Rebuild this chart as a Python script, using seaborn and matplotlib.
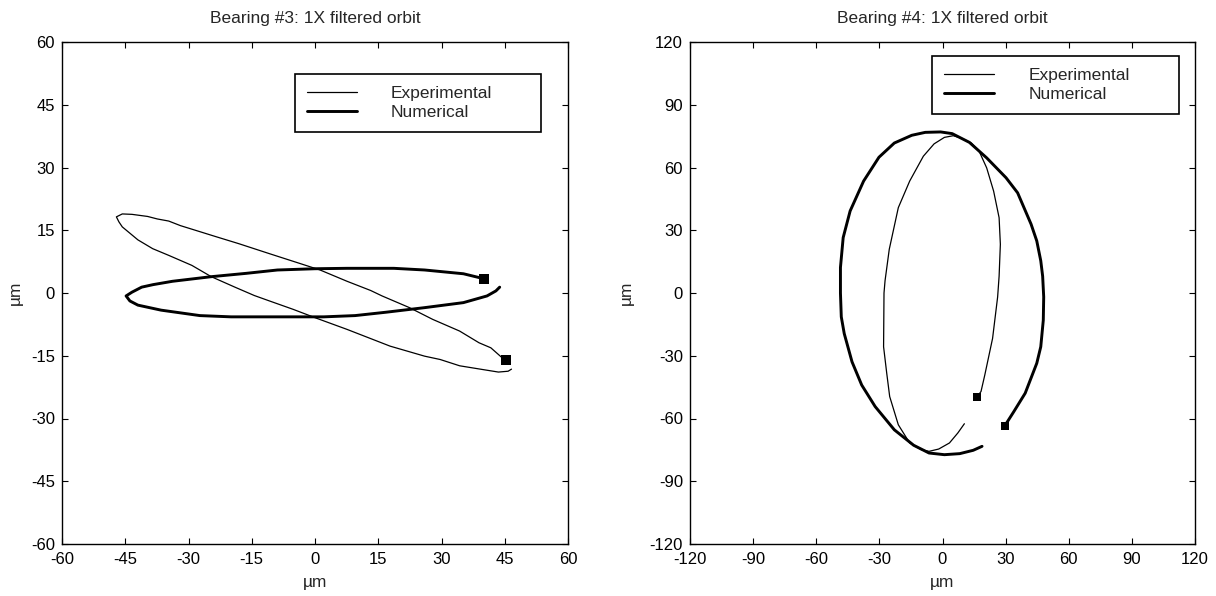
import numpy as np
import pandas as pd
import matplotlib
matplotlib.use("Agg")
import matplotlib.pyplot as plt
import seaborn as sns

# DATA (micrometres)

# Bearing #3
b3_exp_x = [45.4, 44.4, 41.7, 38.9, 34.3, 27.9, 22.4, 15.9, 13.2, 7.6, 1.2, -3.4, -10.8, -18.1,
            -23.6, -28.7, -31.9, -34.7, -37.4, -39.7, -43.4, -45.7, -47.1, -46.5, -45.7, -42.0,
            -38.5, -34.7, -29.2, -24.6, -19.0, -14.4, -10.8, -5.2, 0.0, 7.6, 17.8, 26.0, 29.7,
            34.3, 39.8, 43.5, 45.8, 46.6]
b3_exp_y = [-16.1, -15.5, -13.1, -11.9, -9.1, -6.3, -3.5, -0.7, 0.6, 2.8, 5.5, 7.0, 9.4, 11.8,
            13.5, 15.1, 16.1, 17.2, 17.7, 18.3, 18.8, 18.9, 18.2, 17.0, 15.8, 12.7,
            10.6, 9.0, 6.6, 3.9, 1.4, -0.6, -1.9, -3.9, -5.9, -8.7, -12.7, -15.1, -15.9,
            -17.4, -18.3, -18.9, -18.7, -18.2]

b3_num_x = [40.1, 35.2, 26.0, 18.7, 7.6, 0.0, -8.9, -16.3, -24.6, -33.8, -38.4, -41.1, -43.4,
            -44.8, -43.9, -42.0, -36.5, -27.3, -19.9, -10.8, 2.1, 9.5, 16.8, 26.0, 35.2, 40.8,
            42.9, 43.8]
b3_num_y = [3.4, 4.6, 5.5, 5.9, 5.9, 5.8, 5.5, 4.7, 3.9, 2.8, 2.0, 1.4, 0.2,
            -0.7, -1.9, -2.9, -4.1, -5.4, -5.7, -5.7, -5.7, -5.4, -4.6, -3.5, -2.3, -0.7,
            0.5, 1.4]

# Bearing #4
b4_exp_x = [16.5, 18.3, 20.1, 23.8, 26.2, 26.9, 27.5, 26.9, 24.3, 21.0, 17.4, 13.7, 9.0, 5.1,
            0.9, -4.0, -9.1, -15.6, -21.0, -25.3, -27.3, -27.8, -28.0, -26.5, -25.1, -21.0,
            -15.6, -10.1, -6.4, -1.8, 3.3, 7.3, 10.4]
b4_exp_y = [-49.5, -47.1, -39.2, -21.7, -1.9, 8.0, 23.3, 36.0, 48.7, 59.8, 67.8, 71.7, 74.0, 75.2,
            74.4, 71.3, 65.4, 53.5, 40.8, 20.9, 5.9, 0.0, -25.7, -38.4, -49.5, -63.0,
            -71.7, -74.9, -75.7, -74.6, -71.7, -66.9, -62.5]

b4_num_x = [29.6, 33.9, 39.3, 44.8, 46.7, 47.9, 48.1, 47.6, 46.7, 44.8, 42.1, 35.7, 30.2, 21.0,
            12.8, 4.6, -0.9, -8.2, -14.6, -22.9, -30.2, -37.5, -43.9, -47.2, -48.5, -48.5,
            -48.1, -46.7, -43.0, -38.4, -32.0, -22.9, -13.7, -6.4, 0.9, 8.2, 14.6, 18.8]
b4_num_y = [-63.5, -56.7, -47.9, -33.6, -25.7, -13.0, -1.9, 8.0, 15.4, 24.9, 32.9, 47.9, 55.1, 64.6,
            72.0, 76.2, 77.0, 76.8, 75.4, 71.7, 64.9, 53.5, 39.2, 26.5, 12.2, 0.0,
            -11.4, -19.4, -32.9, -44.0, -54.3, -65.4, -72.8, -76.5, -77.3, -76.8, -75.2, -73.3]

titles = ["Bearing #3: 1X filtered orbit", "Bearing #4: 1X filtered orbit"]
limits = [60, 120]
steps = [15, 30]
labels = ["Experimental", "Numerical"]

# STYLE
sns.set_style("ticks")
plt.rcParams['font.family'] = ['Liberation Sans', 'DejaVu Sans']
plt.rcParams['axes.linewidth'] = 1.0
plt.rcParams['axes.unicode_minus'] = False

fig = plt.figure(figsize=(12.16, 5.96), dpi=100)
ax_left = fig.add_axes([62 / 1216, 52 / 596, 506 / 1216, 502 / 596])
ax_right = fig.add_axes([690 / 1216, 52 / 596, 505 / 1216, 502 / 596])

panels = [
    (ax_left, b3_exp_x, b3_exp_y, b3_num_x, b3_num_y, 52, (0.460, 0.821, 0.487, 0.115), -0.077),
    (ax_right, b4_exp_x, b4_exp_y, b4_num_x, b4_num_y, 34, (0.479, 0.859, 0.489, 0.113), -0.111),
]

for i, (ax, ex, ey, nx, ny, msize, leg_box, ylab_x) in enumerate(panels):
    exp_df = pd.DataFrame({"x": ex, "y": ey})
    num_df = pd.DataFrame({"x": nx, "y": ny})

    sns.lineplot(data=exp_df, x="x", y="y", sort=False, estimator=None, color="black",
                 linewidth=0.9, label=labels[0], ax=ax, legend=False)
    sns.lineplot(data=num_df, x="x", y="y", sort=False, estimator=None, color="black",
                 linewidth=2.1, label=labels[1], ax=ax, legend=False)

    # start markers
    sns.scatterplot(x=[ex[0], nx[0]], y=[ey[0], ny[0]], marker="s", s=msize, color="black",
                    linewidth=0, ax=ax, legend=False, zorder=5)

    lim = limits[i]
    ax.set_xlim(-lim, lim)
    ax.set_ylim(-lim, lim)
    ticks = np.arange(-lim, lim + 1, steps[i])
    ax.set_xticks(ticks)
    ax.set_yticks(ticks)
    ax.tick_params(direction="in", top=True, right=True, length=4, width=0.8,
                   labelsize=12, colors="black")
    ax.tick_params(axis="x", pad=6)
    ax.tick_params(axis="y", pad=5)
    for sp in ax.spines.values():
        sp.set_visible(True)
        sp.set_color("black")

    ax.set_title(titles[i], fontsize=12.5, pad=13.5)
    ax.set_xlabel("µm", fontsize=12.5)
    ax.set_ylabel("µm", fontsize=12.5)
    ax.xaxis.set_label_coords(0.5, -0.062)
    ax.yaxis.set_label_coords(ylab_x, 0.5)

    leg = ax.legend(loc="upper left", bbox_to_anchor=leg_box, mode="expand",
                    borderaxespad=0, fontsize=12.5, handlelength=2.9, handletextpad=1.95,
                    borderpad=0.7, labelspacing=0.2, frameon=True, fancybox=False,
                    framealpha=1, edgecolor="black")
    leg.get_frame().set_linewidth(1.2)

fig.savefig("out.png", dpi=100)
